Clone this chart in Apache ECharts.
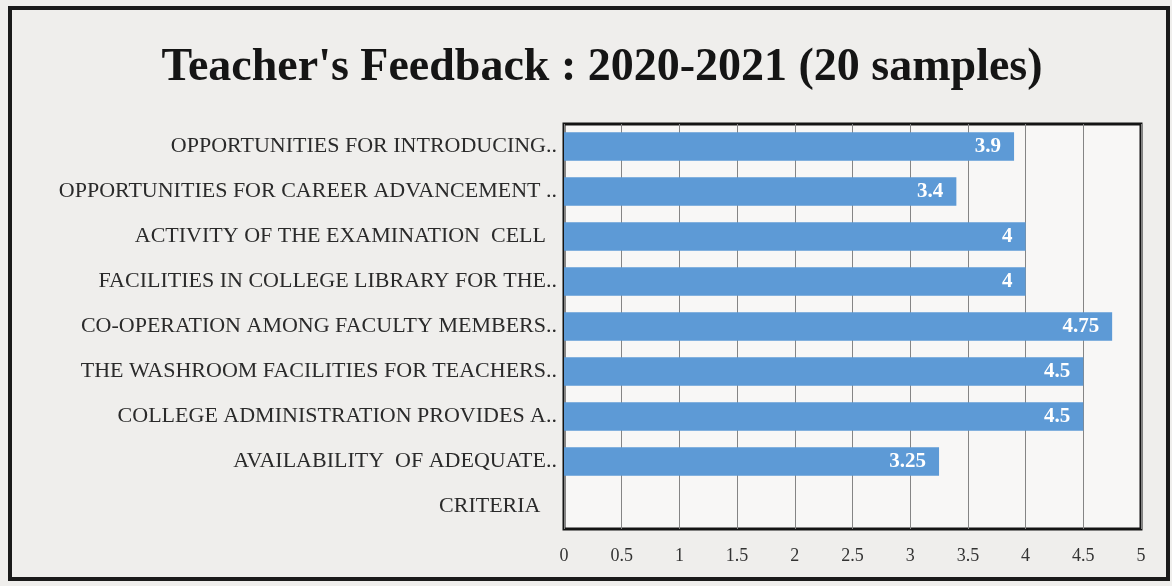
<!DOCTYPE html>
<html>
<head>
<meta charset="utf-8">
<title>Teacher's Feedback</title>
<script src="https://cdn.jsdelivr.net/npm/echarts@6/dist/echarts.min.js"></script>
<style>
    html, body {
        margin: 0;
        padding: 0;
        background: #efeeec;
    }
    #main {
        width: 1172px;
        height: 586px;
    }
</style>
</head>
<body>
<div id="main"></div>
<script>
// criteria, top to bottom as printed
const categories = [
    'OPPORTUNITIES FOR INTRODUCING..',
    'OPPORTUNITIES FOR CAREER ADVANCEMENT ..',
    'ACTIVITY OF THE EXAMINATION  CELL  ',
    'FACILITIES IN COLLEGE LIBRARY FOR THE..',
    'CO-OPERATION AMONG FACULTY MEMBERS..',
    'THE WASHROOM FACILITIES FOR TEACHERS..',
    'COLLEGE ADMINISTRATION PROVIDES A..',
    'AVAILABILITY  OF ADEQUATE..',
    'CRITERIA   ',
];
const scores = [3.9, 3.4, 4, 4, 4.75, 4.5, 4.5, 3.25, '-'];
const xTicks = [0, 5, 0.5]; // min, max, interval

const serif = '"Liberation Serif", "DejaVu Serif", serif';

let chart = echarts.init(document.getElementById('main'));
let option = {
    backgroundColor: '#efeeec',
    animation: false,
    title: {
        text: "Teacher's Feedback : 2020-2021 (20 samples)",
        left: 597,
        textAlign: 'center',
        top: 40,
        textStyle: {
            fontFamily: serif,
            fontSize: 46,
            fontWeight: 'bold',
            color: '#151515',
        },
    },
    graphic: [
        {
            // outer photo frame
            type: 'rect',
            shape: { x: 10, y: 8, width: 1158, height: 571 },
            style: { fill: 'none', stroke: '#1a1a1a', lineWidth: 4 },
        },
    ],
    grid: {
        left: 564,
        right: 31,
        top: 124,
        bottom: 57,
        show: true,
        backgroundColor: '#f8f7f6',
        borderColor: '#141414',
        borderWidth: 3,
    },
    xAxis: {
        type: 'value',
        min: xTicks[0],
        max: xTicks[1],
        interval: xTicks[2],
        axisLine: { show: false },
        axisTick: { show: false },
        splitLine: { lineStyle: { color: '#858585', width: 1 } },
        axisLabel: {
            margin: 18,
            fontFamily: serif,
            fontSize: 18,
            color: '#333',
        },
    },
    yAxis: {
        type: 'category',
        data: categories,
        inverse: true,
        axisLine: { show: false },
        axisTick: { show: false },
        axisLabel: {
            margin: 7,
            fontFamily: serif,
            fontSize: 22,
            color: '#2a2a2a',
        },
    },
    series: [
        {
            name: 'score',
            type: 'bar',
            data: scores,
            barWidth: '63%',
            itemStyle: { color: '#5d9ad6' },
            label: {
                show: true,
                position: 'insideRight',
                distance: 13,
                fontFamily: serif,
                fontSize: 21,
                fontWeight: 'bold',
                color: '#ffffff',
            },
        },
    ],
};
chart.setOption(option);
</script>
</body>
</html>
